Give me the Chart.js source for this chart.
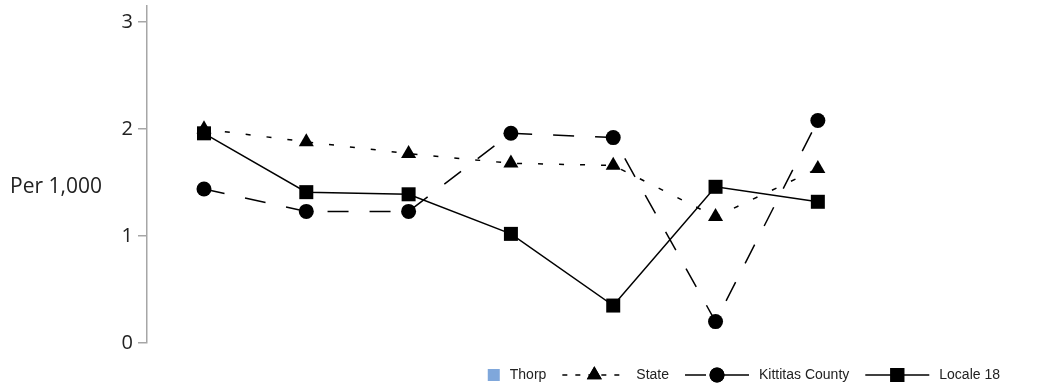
<!DOCTYPE html>
<html>
<head>
<meta charset="utf-8">
<script src="https://cdn.jsdelivr.net/npm/chart.js@4.4.1/dist/chart.umd.min.js"></script>
<style>
  html, body { margin: 0; padding: 0; background: #fff; }
  #wrap { width: 1044px; height: 388px; position: relative; }
</style>
</head>
<body>
<div id="wrap"><canvas id="chart" width="1044" height="388"></canvas></div>
<script>
// --- data --- //
const periods = [0, 1, 2, 3, 4, 5, 6];
const thorpValues = [null, null, null, null, null, null, null];
const stateValues = [2.00, 1.88, 1.77, 1.68, 1.66, 1.18, 1.63];
const kittitasValues = [1.44, 1.23, 1.23, 1.96, 1.92, 0.20, 2.08];
const localeValues = [1.96, 1.41, 1.39, 1.02, 0.35, 1.46, 1.32];
const yTicks = [0, 1, 2, 3];
const yTitle = 'Per 1,000';

const toPoints = vals => periods.map((p, i) => ({ x: p, y: vals[i] }));

// legend settings
const legendCfg = { font: '14px "Liberation Sans", Arial, sans-serif', symW: 64, boxW: 12, symGap: 10, itemGap: 16, right: 1000, y: 375 };

// legend + y title drawn on canvas
const customLegend = {
    id: 'customLegend',
    afterDraw(chart) {
        const ctx = chart.ctx;
        ctx.save();
        // y axis title
        ctx.font = '21px "Open Sans", sans-serif';
        ctx.fillStyle = '#222';
        ctx.textBaseline = 'middle';
        ctx.textAlign = 'left';
        ctx.fillText(yTitle, 10, 187);

        // legend items
        ctx.font = legendCfg.font;
        const items = chart.data.datasets.slice().sort((a, b) => a.legendIndex - b.legendIndex);
        const widths = items.map(ds => (ds.legendBox ? legendCfg.boxW : legendCfg.symW) + legendCfg.symGap + ctx.measureText(ds.label).width);
        const total = widths.reduce((a, b) => a + b, 0) + legendCfg.itemGap * (items.length - 1);
        let x = legendCfg.right - total;
        const y = legendCfg.y;
        items.forEach(ds => {
            if (ds.legendBox) {
                ctx.fillStyle = ds.legendBox;
                ctx.fillRect(x, y - 6, legendCfg.boxW, legendCfg.boxW);
                x += legendCfg.boxW;
            } else {
                ctx.strokeStyle = ds.borderColor;
                ctx.lineWidth = ds.borderWidth;
                ctx.setLineDash(ds.legendDash || []);
                ctx.beginPath();
                ctx.moveTo(x, y);
                ctx.lineTo(x + legendCfg.symW, y);
                ctx.stroke();
                ctx.setLineDash([]);
                ctx.fillStyle = '#000';
                Chart.helpers.drawPoint(ctx, {
                    pointStyle: ds.pointStyle,
                    radius: ds.pointRadius,
                    borderWidth: 0
                }, x + legendCfg.symW / 2, y);
                ctx.fill();
                x += legendCfg.symW;
            }
            x += legendCfg.symGap;
            ctx.fillStyle = '#222';
            ctx.fillText(ds.label, x, y);
            x += ctx.measureText(ds.label).width + legendCfg.itemGap;
        });
        ctx.restore();
    }
};

const ctx = document.getElementById('chart').getContext('2d');
new Chart(ctx, {
    type: 'line',
    data: {
        datasets: [
            {
                label: 'Locale 18',
                data: toPoints(localeValues),
                borderColor: '#000',
                backgroundColor: '#000',
                borderWidth: 1.5,
                pointStyle: 'rect',
                pointRadius: 9.9,
                pointBorderWidth: 0,
                order: 0,
                legendIndex: 3
            },
            {
                label: 'Kittitas County',
                data: toPoints(kittitasValues),
                borderColor: '#000',
                backgroundColor: '#000',
                borderWidth: 1.5,
                borderDash: [21, 21],
                legendDash: [21, 7, 60, 0],
                pointStyle: 'circle',
                pointRadius: 7.5,
                pointBorderWidth: 0,
                order: 1,
                legendIndex: 2
            },
            {
                label: 'State',
                data: toPoints(stateValues),
                borderColor: '#000',
                backgroundColor: '#000',
                borderWidth: 1.5,
                borderDash: [5, 16],
                legendDash: [5, 8],
                pointStyle: 'triangle',
                pointRadius: 8.7,
                pointBorderWidth: 0,
                order: 2,
                legendIndex: 1
            },
            {
                label: 'Thorp',
                data: toPoints(thorpValues),
                borderColor: '#7fa7db',
                backgroundColor: '#7fa7db',
                legendBox: '#7fa7db',
                borderWidth: 1.5,
                pointRadius: 0,
                order: 3,
                legendIndex: 0
            }
        ]
    },
    options: {
        responsive: false,
        animation: false,
        layout: { autoPadding: false, padding: { left: 0, top: 6, right: 175, bottom: 45 } },
        plugins: {
            legend: { display: false },
            tooltip: { enabled: false }
        },
        scales: {
            x: {
                type: 'linear',
                display: false,
                min: -0.557,
                max: 6.5
            },
            y: {
                min: 0,
                max: 3.15,
                afterFit: scale => {
                    scale.width = 147;
                    scale.paddingTop = 0;
                    scale.paddingBottom = 0;
                },
                afterBuildTicks: scale => { scale.ticks = yTicks.map(v => ({ value: v })); },
                ticks: {
                    padding: 5,
                    color: '#222',
                    font: { family: '"Open Sans", sans-serif', size: 20 }
                },
                grid: {
                    drawOnChartArea: false,
                    drawTicks: true,
                    tickLength: 9,
                    color: '#a6a6a6',
                    lineWidth: 1.5
                },
                border: { display: true, color: '#a6a6a6', width: 1.5 }
            }
        }
    },
    plugins: [customLegend]
});
</script>
</body>
</html>
